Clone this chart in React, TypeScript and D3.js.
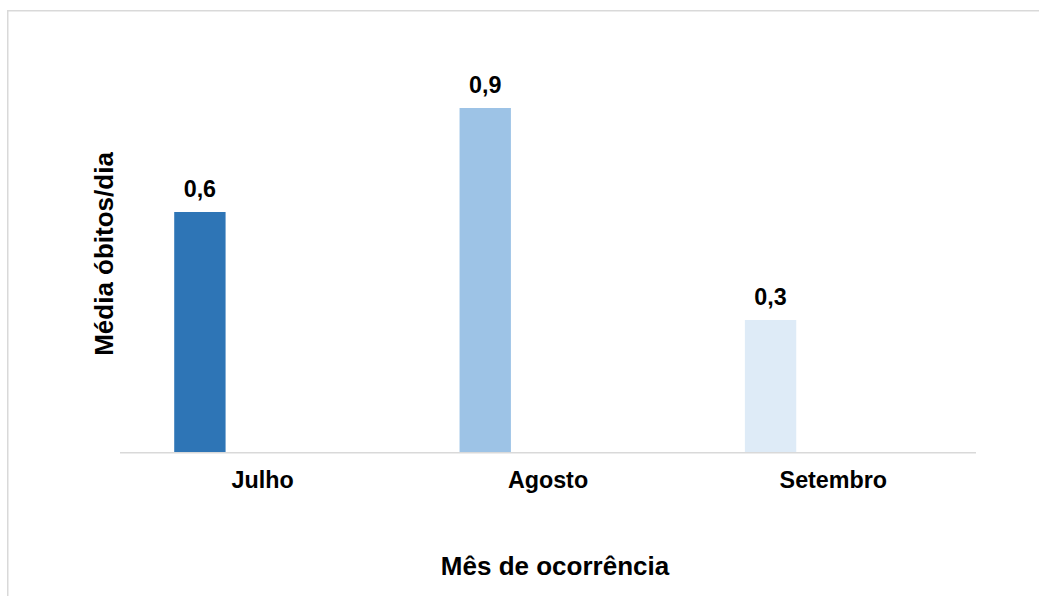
import React from "react";
import * as d3 from "d3";

const categories = ["Julho", "Agosto", "Setembro"];
const values = [0.6, 0.86, 0.33];
const barColors = ["#2E75B6", "#9DC3E6", "#DEEBF7"];
const xTitle = "Mês de ocorrência";
const yTitle = "Média óbitos/dia";

const W = 1039;
const H = 596;
const FONT = "'Liberation Sans', Arial, sans-serif";

export default function App() {
  const x = d3.scaleBand<string>().domain(categories).range([120, 976]).padding(0);
  const y = d3.scaleLinear().domain([0, 1]).range([452, 52]);
  const bw = x.bandwidth();
  const barW = bw * 0.18;
  const barOff = bw * 0.19;
  const fmt = (v: number) => d3.format(".1f")(v).replace(".", ",");

  return (
    <div style={{ position: "absolute", left: 0, top: 0, width: W, height: H, background: "#fff" }}>
      <svg width={W} height={H} style={{ display: "block" }}>
        <rect x={7.75} y={10.75} width={1100} height={700} fill="#fff" stroke="#d9d9d9" strokeWidth={1.5} />
        {categories.map((c, i) => (
          <g key={c}>
            <rect
              x={(x(c) as number) + barOff}
              y={y(values[i])}
              width={barW}
              height={y(0) - y(values[i])}
              fill={barColors[i]}
            />
            <text
              x={(x(c) as number) + barOff + barW / 2}
              y={y(values[i]) - 15}
              textAnchor="middle"
              fontFamily={FONT}
              fontWeight="bold"
              fontSize={23.3}
              fill="#000"
            >
              {fmt(values[i])}
            </text>
            <text
              x={(x(c) as number) + bw / 2}
              y={488}
              textAnchor="middle"
              fontFamily={FONT}
              fontWeight="bold"
              fontSize={23.3}
              fill="#000"
            >
              {c}
            </text>
          </g>
        ))}
        <line x1={120} x2={976} y1={y(0) + 0.75} y2={y(0) + 0.75} stroke="#d9d9d9" strokeWidth={1.5} />
        <text
          x={555}
          y={575}
          textAnchor="middle"
          fontFamily={FONT}
          fontWeight="bold"
          fontSize={26}
          fill="#000"
        >
          {xTitle}
        </text>
        <text
          transform={`translate(113, 254) rotate(-90)`}
          textAnchor="middle"
          fontFamily={FONT}
          fontWeight="bold"
          fontSize={26}
          fill="#000"
        >
          {yTitle}
        </text>
      </svg>
    </div>
  );
}
